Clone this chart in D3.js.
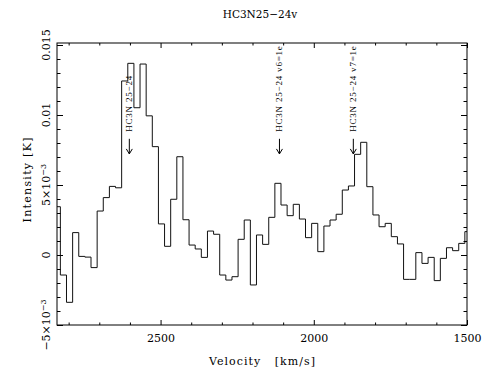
<!DOCTYPE html>
<html><head><meta charset="utf-8">
<script src="https://cdn.jsdelivr.net/npm/d3@7"></script>
<style>
body{margin:0;background:#fff}
svg{display:block}
text{font-family:"DejaVu Serif",serif;fill:#000}
</style>
</head><body>
<svg id="c" width="495" height="370"></svg>
<script>
// ---- data ----
const title = "HC3N25\u221224v";
const xLabel = "Velocity   [km/s]";
const yLabel = "Intensity [K]";
const binWidth = 20;
const velocity = [2837,2817,2797,2777,2757,2737,2717,2697,2677,2657,2637,2617,2597,2577,2557,2537,2517,2497,2477,2457,
  2437,2417,2397,2377,2357,2337,2317,2297,2277,2257,2237,2217,2197,2177,2157,2137,2117,2097,2077,2057,
  2037,2017,1997,1977,1957,1937,1917,1897,1877,1857,1837,1817,1797,1777,1757,1737,1717,1697,1677,1657,
  1637,1617,1597,1577,1557,1537,1517,1497];
const intensity = [0.00345,-0.00143,-0.00338,0.0016,-0.0001,-0.00015,-0.0009,0.00314,0.0041,0.0049,
  0.0048,0.01243,0.01369,0.01052,0.01364,0.00994,0.00774,0.00222,0.00062,0.00398,
  0.00702,0.00252,0.00071,0.00043,-0.00017,0.00171,0.00148,-0.00143,-0.00179,-0.00155,
  0.00112,0.0025,-0.00214,0.00143,0.00076,0.00269,0.00512,0.00357,0.00281,0.00362,
  0.00257,0.00124,0.00226,0.00024,0.00207,0.0025,0.00291,0.00464,0.00493,0.00719,
  0.00805,0.00488,0.00286,0.00202,0.00226,0.00131,0.00079,-0.00174,-0.00174,0.00017,
  -0.0006,-0.00017,-0.00183,-0.00024,0.00052,0.00031,0.00083,0.00167];
const xMajorTicks = [2500, 2000, 1500];
const xMinorTicks = [2800,2700,2600,2400,2300,2200,2100,1900,1800,1700,1600];
const yMajorTicks = [-0.005, 0, 0.005, 0.01, 0.015];
const yTickMain = ["\u22125\u00d710", "0", "5\u00d710", "0.01", "0.015"];
const yTickExp = ["\u22123", "", "\u22123", "", ""];
const yMinorTicks = [-0.004,-0.003,-0.002,-0.001,0.001,0.002,0.003,0.004,0.006,0.007,0.008,0.009,0.011,0.012,0.013,0.014];
const lineVelocity = [2602, 2112, 1871];
const lineLabels = ["HC3N 25\u221224", "HC3N 25\u221224 v6=1e", "HC3N 25\u221224 v7=1e"];

// ---- layout ----
const L = 57, R = 467, T = 43, B = 325;
const svg = d3.select("#c");
const x = d3.scaleLinear().domain([2838, 1500]).range([L, R]);
const y = d3.scaleLinear().domain([-0.005, 0.015143]).range([B, T]);

svg.append("defs").append("clipPath").attr("id","clip")
  .append("rect").attr("x",L).attr("y",T).attr("width",R-L).attr("height",B-T);

// spectrum histogram
const pts = velocity.flatMap((v,i)=>[[x(v+binWidth/2), y(intensity[i])],[x(v-binWidth/2), y(intensity[i])]]);
svg.append("path").attr("clip-path","url(#clip)")
  .attr("d", d3.line()(pts)).attr("fill","none").attr("stroke","#111").attr("stroke-width",1);

// axes
function styleAxis(g){ g.select(".domain").remove(); g.selectAll("line").attr("stroke","#000"); }
svg.append("g").attr("transform",`translate(0,${B})`)
  .call(d3.axisBottom(x).tickValues(xMajorTicks).tickSize(-5).tickPadding(9).tickFormat(d3.format("d")))
  .call(styleAxis).call(g=>g.selectAll("text").attr("font-size",11).attr("font-family","DejaVu Serif").attr("fill","#000"));
svg.append("g").attr("transform",`translate(0,${B})`)
  .call(d3.axisBottom(x).tickValues(xMinorTicks).tickSize(-2.5).tickFormat(""))
  .call(styleAxis);
svg.append("g").attr("transform",`translate(0,${T})`)
  .call(d3.axisTop(x).tickValues(xMajorTicks).tickSize(-5).tickFormat(""))
  .call(styleAxis);
svg.append("g").attr("transform",`translate(0,${T})`)
  .call(d3.axisTop(x).tickValues(xMinorTicks).tickSize(-2.5).tickFormat(""))
  .call(styleAxis);
svg.append("g").attr("transform",`translate(${L},0)`)
  .call(d3.axisLeft(y).tickValues(yMajorTicks).tickSize(-6).tickFormat(""))
  .call(styleAxis);
svg.append("g").attr("transform",`translate(${L},0)`)
  .call(d3.axisLeft(y).tickValues(yMinorTicks).tickSize(-3.5).tickFormat(""))
  .call(styleAxis);
svg.append("g").attr("transform",`translate(${R},0)`)
  .call(d3.axisRight(y).tickValues(yMajorTicks).tickSize(-6).tickFormat(""))
  .call(styleAxis);
svg.append("g").attr("transform",`translate(${R},0)`)
  .call(d3.axisRight(y).tickValues(yMinorTicks).tickSize(-3.5).tickFormat(""))
  .call(styleAxis);

svg.append("rect").attr("x",L).attr("y",T).attr("width",R-L).attr("height",B-T)
  .attr("fill","none").attr("stroke","#000").attr("stroke-width",1);

// y tick labels (rotated)
yMajorTicks.forEach((v,i)=>{
  const t = svg.append("text").attr("transform",`translate(50,${y(v)}) rotate(-90)`)
    .attr("text-anchor","middle").attr("font-size",11);
  t.append("tspan").text(yTickMain[i]);
  if (yTickExp[i]) t.append("tspan").attr("font-size",8).attr("dy",-4.5).text(yTickExp[i]);
});

// titles
svg.append("text").attr("x",(L+R)/2 - 2).attr("y",17.5).attr("text-anchor","middle")
  .attr("font-size",10.5).text(title);
svg.append("text").attr("x",(L+R)/2).attr("y",365).attr("text-anchor","middle")
  .attr("font-size",11).attr("textLength",106).attr("lengthAdjust","spacing")
  .style("white-space","pre").text(xLabel);
svg.append("text").attr("transform",`translate(30.5,${(T+B)/2 - 4}) rotate(-90)`)
  .attr("text-anchor","middle").attr("font-size",11)
  .attr("textLength",85).attr("lengthAdjust","spacing").text(yLabel);

// line annotations
lineVelocity.forEach((v,i)=>{
  const xv = x(v);
  svg.append("text").attr("transform",`translate(${xv+3},${y(0.0088)}) rotate(-90)`)
    .attr("text-anchor","start").attr("font-size",9).style("letter-spacing","0.8px")
    .style("font-family","'Liberation Serif',serif").text(lineLabels[i]);
  const y0 = y(0.0083), y1 = y(0.00722);
  svg.append("path").attr("d",`M${xv},${y0}L${xv},${y1}M${xv-3},${y1-5}L${xv},${y1}L${xv+3},${y1-5}`)
    .attr("fill","none").attr("stroke","#000").attr("stroke-width",1);
});
</script>
</body></html>
